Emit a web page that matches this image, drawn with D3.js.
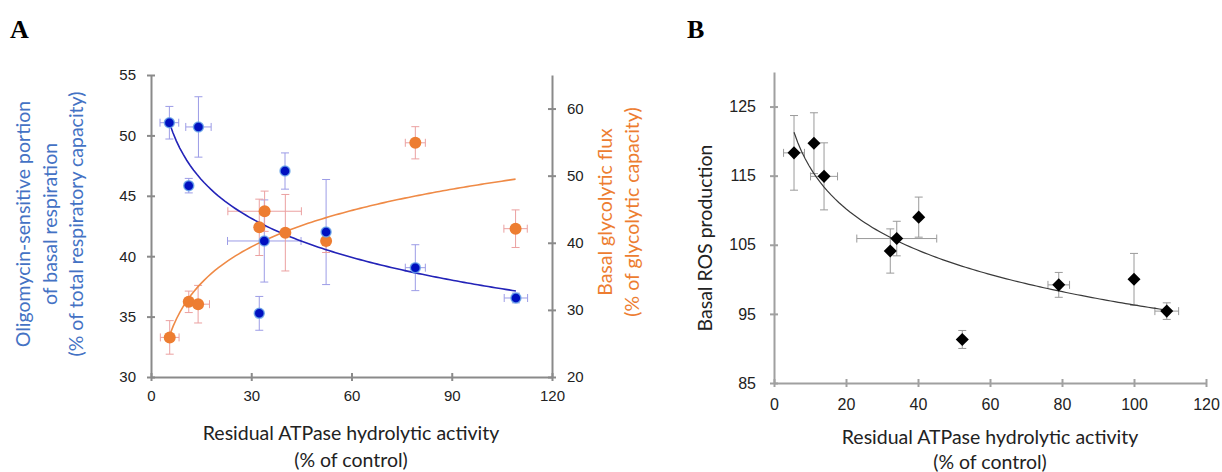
<!DOCTYPE html>
<html>
<head>
<meta charset="utf-8">
<script src="https://cdn.jsdelivr.net/npm/d3@7"></script>
<style>
  body { margin: 0; background: #fff; }
  svg { display: block; font-family: Lato, "Noto Sans", sans-serif; }
</style>
</head>
<body>
<svg id="chart" width="1222" height="472"></svg>
<script>
// panel A, blue series: oligomycin-sensitive respiration (left axis)
var oligoX    = [5.5, 11.3, 14.2, 32.4, 33.9, 40.1, 52.4, 79.1, 109.2];
var oligoXErr = [2.8, 0.5, 3.8, 0, 11, 0, 0, 3, 3.5];
var oligoY    = [51.05, 45.84, 50.7, 35.27, 41.26, 47.05, 42.0, 39.05, 36.54];
var oligoYErr = [1.35, 0.6, 2.5, 1.4, 3.4, 1.5, 4.35, 1.9, 0.4];

// panel A, orange series: basal glycolytic flux (right axis)
var glycoX    = [5.6, 11.3, 14.1, 32.4, 34.0, 40.2, 52.4, 79.1, 109.1];
var glycoXErr = [2.8, 0.8, 3.4, 0, 11, 0, 0, 3, 3.5];
var glycoY    = [25.9, 31.2, 30.85, 42.3, 44.7, 41.5, 40.25, 54.9, 42.1];
var glycoYErr = [2.5, 1.6, 2.8, 4.2, 3.0, 5.7, 1.7, 2.4, 2.8];

// panel B: basal ROS production
var rosX    = [5.56, 11.1, 13.9, 32.3, 34.1, 40.2, 52.3, 79.1, 100.0, 109.1];
var rosXErr = [2.9, 0, 3.75, 0, 11.1, 0, 0, 3, 0, 3.3];
var rosY    = [118.3, 119.7, 114.9, 104.1, 105.9, 109.0, 91.3, 99.2, 100.0, 95.4];
var rosYErr = [5.4, 4.4, 4.85, 3.2, 2.5, 2.9, 1.3, 1.8, 3.75, 1.2];

// tick values
var ticksAx = [0, 30, 60, 90, 120];
var ticksAL = [30, 35, 40, 45, 50, 55];
var ticksAR = [20, 30, 40, 50, 60];
var ticksBx = [0, 20, 40, 60, 80, 100, 120];
var ticksBy = [85, 95, 105, 115, 125];

var svg = d3.select("#chart");

function rows(xs, xe, ys, ye) {
  return xs.map((x, i) => ({x: x, xe: xe[i], y: ys[i], ye: ye[i]}));
}

// logarithmic least squares trendline y = a + b ln(x)
function logFit(data) {
  var lx = data.map(d => Math.log(d.x));
  var mx = d3.mean(lx), my = d3.mean(data, d => d.y);
  var sxy = d3.sum(data, (d, i) => (lx[i] - mx) * (d.y - my));
  var sxx = d3.sum(lx, v => (v - mx) * (v - mx));
  var b = sxy / sxx;
  var a = my - b * mx;
  var ext = d3.extent(data, d => d.x);
  return d3.range(0, 101).map(k => {
    var x = ext[0] + (ext[1] - ext[0]) * k / 100;
    return {x: x, y: a + b * Math.log(x)};
  });
}

function errorBars(g, data, x, y, color, cap) {
  var eg = g.append("g").attr("stroke", color).attr("stroke-width", 1).attr("fill", "none");
  data.forEach(d => {
    if (d.ye > 0) {
      eg.append("line").attr("x1", x(d.x)).attr("x2", x(d.x))
        .attr("y1", y(d.y - d.ye)).attr("y2", y(d.y + d.ye));
      [d.y - d.ye, d.y + d.ye].forEach(v => eg.append("line")
        .attr("x1", x(d.x) - cap).attr("x2", x(d.x) + cap)
        .attr("y1", y(v)).attr("y2", y(v)));
    }
    if (d.xe > 0) {
      eg.append("line").attr("y1", y(d.y)).attr("y2", y(d.y))
        .attr("x1", x(d.x - d.xe)).attr("x2", x(d.x + d.xe));
      [d.x - d.xe, d.x + d.xe].forEach(v => eg.append("line")
        .attr("y1", y(d.y) - cap).attr("y2", y(d.y) + cap)
        .attr("x1", x(v)).attr("x2", x(v)));
    }
  });
}

function styleAxis(g, color, width, vertical, fs) {
  g.select(".domain").attr("stroke", color).attr("stroke-width", width);
  g.selectAll(".tick line").attr("stroke", color).attr("stroke-width", width);
  if (vertical) g.selectAll(".tick line").attr("x1", -4).attr("x2", 4);
  else g.selectAll(".tick line").attr("y1", -4).attr("y2", 4);
  g.selectAll(".tick text").attr("fill", "#222").style("font-size", fs + "px");
}

// ---------- panel A ----------
var xA = d3.scaleLinear().domain([0, 120]).range([151, 552]);
var yL = d3.scaleLinear().domain([30, 55]).range([377, 75]);
var yR = d3.scaleLinear().domain([20, 65]).range([377, 75]);

var axisGrey = "#8a8a8a";

svg.append("g").attr("transform", "translate(0,377)")
  .call(d3.axisBottom(xA).tickValues(ticksAx).tickSize(4).tickPadding(9).tickSizeOuter(0))
  .call(g => styleAxis(g, axisGrey, 2, false, 15));
svg.append("g").attr("transform", "translate(151,0)")
  .call(d3.axisLeft(yL).tickValues(ticksAL).tickSize(4).tickPadding(11).tickSizeOuter(0))
  .call(g => styleAxis(g, axisGrey, 2, true, 15));
svg.append("g").attr("transform", "translate(552,0)")
  .call(d3.axisRight(yR).tickValues(ticksAR).tickSize(4).tickPadding(11).tickSizeOuter(0))
  .call(g => styleAxis(g, axisGrey, 2, true, 15));

var oligo = rows(oligoX, oligoXErr, oligoY, oligoYErr);
var glyco = rows(glycoX, glycoXErr, glycoY, glycoYErr);

var pA = svg.append("g");
errorBars(pA, oligo, xA, yL, "#9c9ce6", 4);
errorBars(pA, glyco, xA, yR, "#eba0a0", 4);

pA.append("path").datum(logFit(oligo))
  .attr("fill", "none").attr("stroke", "#2323b8").attr("stroke-width", 1.6)
  .attr("d", d3.line().x(d => xA(d.x)).y(d => yL(d.y)));
pA.append("path").datum(logFit(glyco))
  .attr("fill", "none").attr("stroke", "#ef8a46").attr("stroke-width", 1.6)
  .attr("d", d3.line().x(d => xA(d.x)).y(d => yR(d.y)));

pA.append("g").selectAll("circle").data(glyco).join("circle")
  .attr("cx", d => xA(d.x)).attr("cy", d => yR(d.y)).attr("r", 6)
  .attr("fill", "#ed7d31");
pA.append("g").selectAll("circle").data(oligo).join("circle")
  .attr("cx", d => xA(d.x)).attr("cy", d => yL(d.y)).attr("r", 5)
  .attr("fill", "#0010c0").attr("stroke", "#6aa8e8").attr("stroke-width", 1.5)
  .attr("stroke-opacity", 0.8);

// axis titles panel A
var labA = svg.append("g").style("font-size", "19.5px");
labA.append("text").attr("x", 351).attr("y", 440).attr("text-anchor", "middle")
  .attr("fill", "#222").text("Residual ATPase hydrolytic activity");
labA.append("text").attr("x", 351).attr("y", 467).attr("text-anchor", "middle")
  .attr("fill", "#222").text("(% of control)");
["Oligomycin-sensitive portion", "of basal respiration", "(% of total respiratory capacity)"]
  .forEach((t, i) => labA.append("text")
    .attr("transform", `translate(${30 + i * 26.5},224) rotate(-90)`)
    .attr("text-anchor", "middle").attr("fill", "#4472c4").text(t));
["Basal glycolytic flux", "(% of glycolytic capacity)"]
  .forEach((t, i) => labA.append("text")
    .attr("transform", `translate(${612 + i * 27},212) rotate(-90)`)
    .attr("text-anchor", "middle").attr("fill", "#ed7d31").text(t));

// ---------- panel B ----------
var xB = d3.scaleLinear().domain([0, 120]).range([774, 1206]);
var yB = d3.scaleLinear().domain([85, 130]).range([383, 72]);
var axisGreyB = "#a0a0a0";

svg.append("g").attr("transform", "translate(0,383)")
  .call(d3.axisBottom(xB).tickValues(ticksBx).tickSize(4).tickPadding(12).tickSizeOuter(0))
  .call(g => styleAxis(g, axisGreyB, 2, false, 16));
svg.append("g").attr("transform", "translate(774,0)")
  .call(d3.axisLeft(yB).tickValues(ticksBy).tickSize(4).tickPadding(14).tickSizeOuter(0))
  .call(g => styleAxis(g, axisGreyB, 2, true, 16));

var ros = rows(rosX, rosXErr, rosY, rosYErr);
var pB = svg.append("g");
errorBars(pB, ros, xB, yB, "#9a9a9a", 4);
pB.append("path").datum(logFit(ros))
  .attr("fill", "none").attr("stroke", "#3a3a3a").attr("stroke-width", 1.2)
  .attr("d", d3.line().x(d => xB(d.x)).y(d => yB(d.y)));
pB.append("g").selectAll("path").data(ros).join("path")
  .attr("transform", d => `translate(${xB(d.x)},${yB(d.y)}) rotate(45)`)
  .attr("d", d3.symbol(d3.symbolSquare, 85))
  .attr("fill", "#000");

var labB = svg.append("g").style("font-size", "19.5px").attr("fill", "#222");
labB.append("text").attr("x", 990).attr("y", 444).attr("text-anchor", "middle")
  .text("Residual ATPase hydrolytic activity");
labB.append("text").attr("x", 990).attr("y", 469).attr("text-anchor", "middle")
  .text("(% of control)");
labB.append("text").attr("transform", "translate(712,238) rotate(-90)")
  .attr("text-anchor", "middle").text("Basal ROS production");

// panel letters
svg.append("text").attr("x", 10).attr("y", 38)
  .style("font-family", "'Liberation Serif', 'DejaVu Serif', serif")
  .style("font-weight", "bold").style("font-size", "26px").text("A");
svg.append("text").attr("x", 687).attr("y", 38)
  .style("font-family", "'Liberation Serif', 'DejaVu Serif', serif")
  .style("font-weight", "bold").style("font-size", "26px").text("B");
</script>
</body>
</html>
